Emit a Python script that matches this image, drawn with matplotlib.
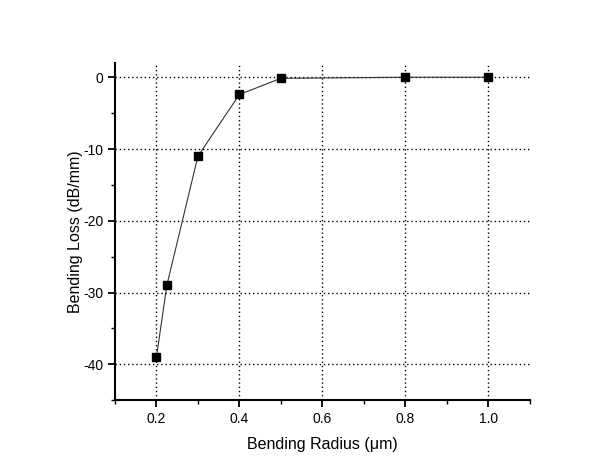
import matplotlib
matplotlib.use('Agg')
import matplotlib.pyplot as plt
from matplotlib.ticker import MultipleLocator

plt.rcParams['font.family'] = ['Liberation Sans', 'DejaVu Sans']
plt.rcParams['axes.unicode_minus'] = False

# bending radius (um) and bending loss (dB/mm)
radius = [0.2, 0.225, 0.3, 0.4, 0.5, 0.8, 1.0]
loss = [-39, -29, -11, -2.4, -0.15, 0, 0]

fig = plt.figure(figsize=(6.02, 4.73), dpi=100)
ax = fig.add_axes([0.191, 0.154, 0.689, 0.713])

ax.plot(radius, loss, color='#333333', lw=0.8, marker='s', ms=6,
        mfc='black', mec='black', zorder=3)

ax.set_xlim(0.1, 1.1)
ax.set_ylim(-45, 2)
ax.xaxis.set_minor_locator(MultipleLocator(0.1))
ax.yaxis.set_major_locator(MultipleLocator(10))
ax.yaxis.set_minor_locator(MultipleLocator(5))
ax.set_xticks([0.2, 0.4, 0.6, 0.8, 1.0])
ax.set_xticklabels(['0.2', '0.4', '0.6', '0.8', '1.0'])

ax.grid(True, which='major', color='black', linestyle=(0, (1, 2)), lw=1.0)
ax.spines['top'].set_visible(False)
ax.spines['right'].set_visible(False)
ax.spines['left'].set_linewidth(1.5)
ax.spines['bottom'].set_linewidth(1.5)
ax.tick_params(which='major', direction='out', length=5, width=1.3, labelsize=10)
ax.tick_params(which='minor', direction='out', length=3, width=1.0)

ax.set_xlabel('Bending Radius (\u03bcm)', fontsize=11.5, labelpad=8)
ax.set_ylabel('Bending Loss (dB/mm)', fontsize=11.5, labelpad=0)

fig.savefig('out.png', dpi=100)
